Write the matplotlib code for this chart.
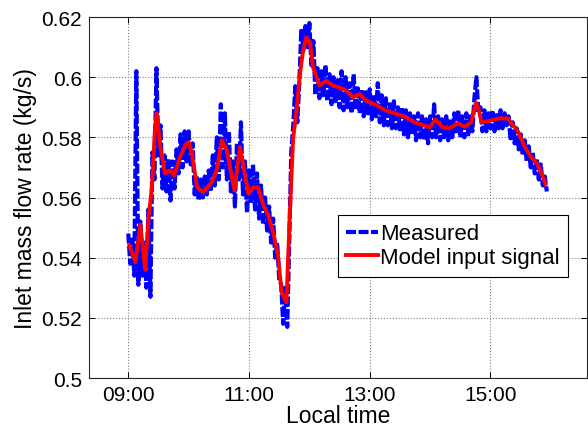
import numpy as np
import matplotlib.pyplot as plt

# measured inlet flow, one reading every 2 minutes from 09:00
meas_start = 9.0
meas_step_min = 2.0
measured = [
    0.548, 0.538, 0.546, 0.534, 0.602, 0.531, 0.552, 0.534, 0.545, 0.530, 0.556, 0.527, 0.575, 0.566, 0.603,
    0.574, 0.584, 0.563, 0.574, 0.562, 0.573, 0.559, 0.572, 0.563, 0.576, 0.568, 0.581, 0.570, 0.582, 0.572,
    0.582, 0.571, 0.578, 0.561, 0.567, 0.559, 0.566, 0.560, 0.567, 0.561, 0.569, 0.562, 0.574, 0.564, 0.580,
    0.566, 0.591, 0.570, 0.588, 0.566, 0.582, 0.562, 0.572, 0.557, 0.578, 0.566, 0.585, 0.561, 0.572, 0.555,
    0.569, 0.558, 0.571, 0.556, 0.568, 0.553, 0.564, 0.551, 0.560, 0.549, 0.557, 0.545, 0.553, 0.540, 0.545,
    0.533, 0.531, 0.518, 0.530, 0.517, 0.545, 0.575, 0.584, 0.597, 0.585, 0.598, 0.616, 0.609, 0.617, 0.610,
    0.618, 0.604, 0.612, 0.594, 0.603, 0.593, 0.602, 0.594, 0.604, 0.592, 0.601, 0.591, 0.600, 0.592, 0.599,
    0.590, 0.602, 0.589, 0.600, 0.590, 0.598, 0.588, 0.601, 0.589, 0.597, 0.588, 0.596, 0.587, 0.595, 0.588,
    0.596, 0.586, 0.594, 0.587, 0.598, 0.585, 0.594, 0.584, 0.593, 0.584, 0.591, 0.583, 0.592, 0.583, 0.590,
    0.582, 0.590, 0.581, 0.589, 0.580, 0.588, 0.581, 0.587, 0.579, 0.588, 0.580, 0.587, 0.579, 0.586, 0.578,
    0.587, 0.580, 0.591, 0.580, 0.587, 0.579, 0.586, 0.580, 0.587, 0.579, 0.586, 0.580, 0.588, 0.581, 0.589,
    0.580, 0.587, 0.580, 0.588, 0.581, 0.587, 0.582, 0.593, 0.600, 0.588, 0.590, 0.582, 0.589, 0.582, 0.588,
    0.583, 0.589, 0.582, 0.588, 0.583, 0.589, 0.583, 0.588, 0.584, 0.587, 0.579, 0.585, 0.578, 0.583, 0.576,
    0.581, 0.574, 0.579, 0.572, 0.577, 0.570, 0.575, 0.568, 0.573, 0.566, 0.571, 0.564, 0.567, 0.562,
]

# smoothed model input signal (hours, kg/s)
model_t = [9.02, 9.12, 9.20, 9.28, 9.34, 9.39, 9.44, 9.47, 9.53, 9.61, 9.69, 9.76, 9.86, 9.95,
           10.0, 10.05, 10.14, 10.24, 10.38, 10.47, 10.55, 10.63, 10.76, 10.85, 10.99,
           11.07, 11.15, 11.24, 11.32, 11.40, 11.48, 11.54, 11.62, 11.68, 11.73, 11.79, 11.84,
           11.89, 11.95, 12.01, 12.06, 12.17, 12.28, 12.39, 12.5, 12.61, 12.72, 12.83, 12.94,
           13.11, 13.27, 13.44, 13.6, 13.74, 13.88, 13.99, 14.09, 14.21, 14.32, 14.46, 14.57,
           14.68, 14.76, 14.81, 14.85, 14.98, 15.15, 15.29, 15.37, 15.45, 15.56, 15.67, 15.78,
           15.86, 15.91]
model_v = [0.544, 0.5385, 0.551, 0.536, 0.554, 0.563, 0.582, 0.588, 0.577, 0.568, 0.569, 0.5673, 0.5735, 0.5775,
           0.5784, 0.575, 0.5635, 0.5618, 0.565, 0.5695, 0.579, 0.576, 0.5623, 0.5768, 0.5612,
           0.5634, 0.5634, 0.5573, 0.554, 0.5484, 0.5407, 0.5285, 0.5252, 0.5562, 0.5794, 0.5894, 0.6005,
           0.608, 0.6132, 0.6116, 0.6033, 0.5972, 0.5988, 0.5972, 0.5966, 0.5955, 0.5933, 0.5944, 0.5922,
           0.5907, 0.5889, 0.5878, 0.5867, 0.585, 0.5841, 0.5833, 0.5859, 0.5833, 0.583, 0.5847, 0.5835,
           0.585, 0.5916, 0.5889, 0.585, 0.5855, 0.5863, 0.5863, 0.5841, 0.5822, 0.5772, 0.5734, 0.5711,
           0.5673, 0.5645]

xticks = [9, 11, 13, 15]
xtick_labels = ["09:00", "11:00", "13:00", "15:00"]
yticks = [0.5, 0.52, 0.54, 0.56, 0.58, 0.6, 0.62]
ytick_labels = ["0.5", "0.52", "0.54", "0.56", "0.58", "0.6", "0.62"]

plt.rcParams['font.family'] = ['Liberation Sans', 'DejaVu Sans']

meas_t = meas_start + np.arange(len(measured)) * meas_step_min / 60.0

fig = plt.figure(figsize=(5.88, 4.27), dpi=100)
ax = fig.add_axes([0.1514, 0.1124, 0.847, 0.8454])

ax.plot(meas_t, measured, color=(0, 0, 1), lw=3.0, ls=(0, (2.4, 0.6)), label="Measured")
ax.plot(model_t, model_v, color=(1, 0, 0), lw=2.8, label="Model input signal")

ax.set_xlim(8.35, 16.6)
ax.set_ylim(0.5, 0.62)
ax.set_xticks(xticks)
ax.set_xticklabels(xtick_labels)
ax.set_yticks(yticks)
ax.set_yticklabels(ytick_labels)
ax.tick_params(direction='in', top=True, right=True, labelsize=15, length=4, width=0.7, pad=5)
ax.grid(True, ls=':', color='0.5', lw=0.8)
for s in ax.spines.values():
    s.set_linewidth(0.8)
    s.set_color('0.15')

ax.set_xlabel("Local time", fontsize=16.5, labelpad=0)
ax.set_ylabel("Inlet mass flow rate (kg/s)", fontsize=16.5, labelpad=3)

leg = ax.legend(loc='upper left', bbox_to_anchor=(0.5, 0.4515), fontsize=16,
                handlelength=1.4, handletextpad=0.1, borderpad=0.38, labelspacing=0.12,
                borderaxespad=0, fancybox=False, framealpha=1, edgecolor='black')
leg.get_frame().set_linewidth(0.8)

fig.savefig("out.png", dpi=100)
